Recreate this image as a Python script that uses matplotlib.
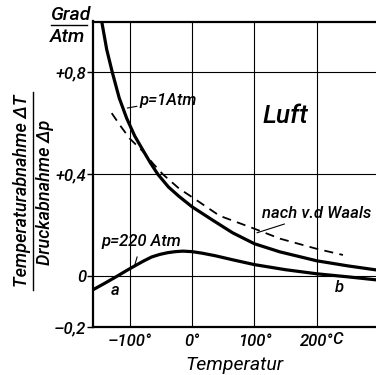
import numpy as np
import matplotlib as mpl
mpl.use('Agg')
import matplotlib.pyplot as plt
from matplotlib.lines import Line2D

# curve readings (temperature in degC, coefficient in Grad/Atm)
t_1atm = [-149, -145, -137, -128, -117, -105, -92, -79, -67, -55, -38, -21, 0, 34, 65, 100, 141, 200, 250, 296]
v_1atm = [1.04, 1.0, 0.89, 0.80, 0.70, 0.62, 0.55, 0.495, 0.445, 0.40, 0.35, 0.313, 0.272, 0.218, 0.17, 0.127, 0.095, 0.06, 0.04, 0.024]

t_220 = [-160, -140, -120, -105, -92, -78, -65, -52, -39, -27, -15, 0, 16, 37, 65, 100, 150, 200, 250, 296]
v_220 = [-0.055, -0.028, 0.0, 0.022, 0.04, 0.059, 0.075, 0.085, 0.092, 0.096, 0.098, 0.096, 0.09, 0.08, 0.064, 0.045, 0.025, 0.009, -0.003, -0.015]

t_waals = [-129, -115, -100, -79, -62, -47, -21, 0, 44, 100, 141, 200, 242]
v_waals = [0.64, 0.59, 0.54, 0.49, 0.44, 0.40, 0.344, 0.31, 0.237, 0.186, 0.147, 0.107, 0.083]

xticks = [-100, 0, 100, 200]
xlabels = ['\u2013100\u00b0', '0\u00b0', '100\u00b0', '200\u00b0']
yticks = [-0.2, 0, 0.4, 0.8]
ylabels = ['\u20130,2', '0', '+0,4', '+0,8']

plt.rcParams['font.family'] = ['Roboto', 'DejaVu Sans']
plt.rcParams['font.style'] = 'italic'
plt.rcParams['font.weight'] = 'medium'

fig = plt.figure(figsize=(3.76, 3.75), dpi=100)
ax = fig.add_axes([93/376, 1 - 327/375, 1 - 93/376, (327 - 21.5)/375])

ax.plot(t_1atm, v_1atm, color='black', lw=2.3, solid_capstyle='butt')
ax.plot(t_220, v_220, color='black', lw=2.3, solid_capstyle='butt')
ax.plot(t_waals, v_waals, color='black', lw=1.3, dashes=(5, 3.5))

ax.set_xlim(-159, 295)
ax.set_ylim(-0.2, 1.0)
ax.set_xticks(xticks)
ax.set_xticklabels(xlabels)
ax.set_yticks(yticks)
ax.set_yticklabels(ylabels)
ax.grid(True, color='black', lw=0.8)
ax.tick_params(axis='x', length=0, pad=5, labelsize=12)
ax.tick_params(axis='y', length=4, width=1, pad=1, labelsize=12)
for s in ['left', 'bottom', 'top']:
    ax.spines[s].set_linewidth(1.6)
ax.spines['right'].set_visible(False)

ax.text(225, -0.25, 'C', fontsize=12, va='center', ha='left')

ax.text(149, 0.63, 'Luft', fontsize=19, ha='center', va='center')
ax.annotate('p=1Atm', xy=(-104, 0.66), xytext=(-84, 0.69), fontsize=12, va='center', ha='left',
            arrowprops=dict(arrowstyle='-', lw=0.8, color='black', shrinkA=0, shrinkB=0))
ax.annotate('p=220 Atm', xy=(-92, 0.043), xytext=(-145, 0.137), fontsize=12, va='center', ha='left',
            arrowprops=dict(arrowstyle='-', lw=0.8, color='black', shrinkA=4, shrinkB=0))
ax.annotate('nach v.d Waals', xy=(104, 0.17), xytext=(112, 0.245), fontsize=12, va='center', ha='left',
            arrowprops=dict(arrowstyle='-', lw=0.8, color='black', shrinkA=0, shrinkB=0))
ax.text(-124, -0.055, 'a', fontsize=12, ha='center', va='center')
ax.text(236, -0.043, 'b', fontsize=12, ha='center', va='center')

ax.set_xlabel('Temperatur', fontsize=14, labelpad=5)

# unit above the y axis, as a fraction
fig.text(70/376, 1 - 15/375, 'Grad', fontsize=14, ha='center', va='center')
fig.text(68/376, 1 - 37/375, 'Atm', fontsize=14, ha='center', va='center')
fig.add_artist(Line2D([51/376, 87/376], [1 - 25/375, 1 - 25/375], color='black', lw=1))

# y label, as a fraction
fig.text(22/376, 1 - 191/375, 'Temperaturabnahme \u0394T', fontsize=13, rotation=90, ha='center', va='center')
fig.text(45/376, 1 - 192/375, 'Druckabnahme \u0394p', fontsize=13, rotation=90, ha='center', va='center')
fig.add_artist(Line2D([33/376, 33/376], [1 - 92/375, 1 - 290/375], color='black', lw=1))

fig.savefig('out.png', dpi=100)
